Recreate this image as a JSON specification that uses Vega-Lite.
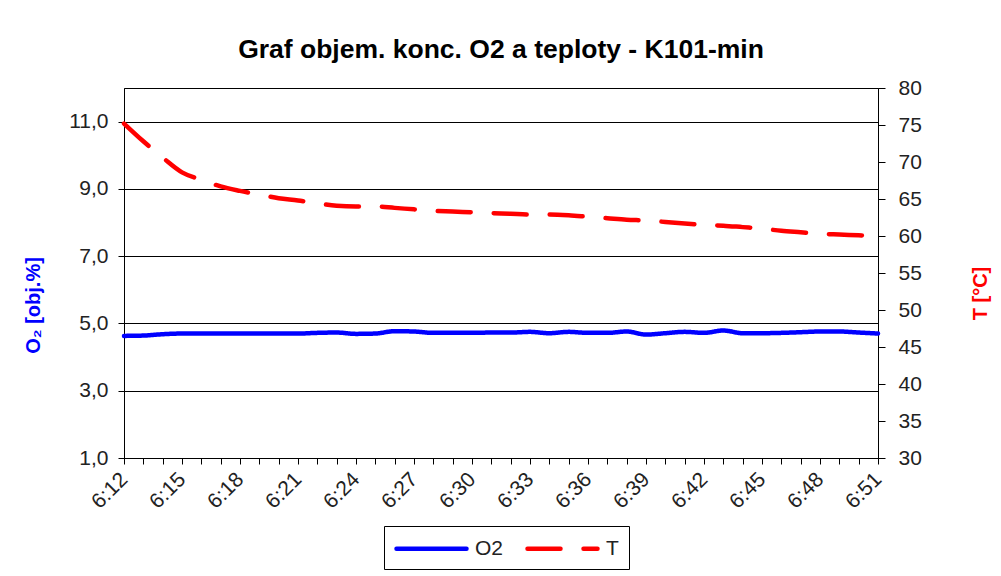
{
  "$schema": "https://vega.github.io/schema/vega-lite/v6.json",
  "width": 754,
  "height": 370,
  "autosize": {"type": "none"},
  "padding": {"left": 124, "top": 88, "right": 123, "bottom": 118},
  "background": "white",
  "title": {
    "text": "Graf objem. konc. O2 a teploty - K101-min",
    "font": "Liberation Sans",
    "fontSize": 26.5,
    "fontWeight": "bold",
    "color": "#000000",
    "anchor": "middle",
    "frame": "group",
    "baseline": "alphabetic",
    "offset": 18,
    "dy": 25
  },
  "config": {
    "font": "Liberation Sans",
    "view": {"stroke": "#000000", "strokeWidth": 1},
    "axis": {
      "labelFont": "Liberation Sans",
      "labelFontSize": 21,
      "labelColor": "#222222",
      "domainColor": "#000000",
      "tickColor": "#000000",
      "gridColor": "#000000",
      "gridOpacity": 1,
      "titleFont": "Liberation Sans",
      "titleFontSize": 20,
      "titleFontWeight": "bold"
    },
    "legend": {
      "labelFont": "Liberation Sans",
      "labelFontSize": 21,
      "labelColor": "#222222"
    }
  },
  "data": {
    "values": [
      {"cas": "6:12", "O2": 4.63, "T": 75.2},
      {"cas": "6:13", "O2": 4.64, "T": 72.8},
      {"cas": "6:14", "O2": 4.68, "T": 70.6},
      {"cas": "6:15", "O2": 4.70, "T": 68.6},
      {"cas": "6:16", "O2": 4.70, "T": 67.6},
      {"cas": "6:17", "O2": 4.70, "T": 66.7},
      {"cas": "6:18", "O2": 4.70, "T": 66.1},
      {"cas": "6:19", "O2": 4.70, "T": 65.6},
      {"cas": "6:20", "O2": 4.70, "T": 65.1},
      {"cas": "6:21", "O2": 4.70, "T": 64.8},
      {"cas": "6:22", "O2": 4.72, "T": 64.4},
      {"cas": "6:23", "O2": 4.73, "T": 64.1},
      {"cas": "6:24", "O2": 4.69, "T": 64.0},
      {"cas": "6:25", "O2": 4.70, "T": 64.0},
      {"cas": "6:26", "O2": 4.77, "T": 63.8},
      {"cas": "6:27", "O2": 4.76, "T": 63.6},
      {"cas": "6:28", "O2": 4.72, "T": 63.4},
      {"cas": "6:29", "O2": 4.72, "T": 63.3},
      {"cas": "6:30", "O2": 4.72, "T": 63.2},
      {"cas": "6:31", "O2": 4.73, "T": 63.1},
      {"cas": "6:32", "O2": 4.73, "T": 63.0},
      {"cas": "6:33", "O2": 4.75, "T": 62.9},
      {"cas": "6:34", "O2": 4.71, "T": 62.9},
      {"cas": "6:35", "O2": 4.75, "T": 62.8},
      {"cas": "6:36", "O2": 4.72, "T": 62.6},
      {"cas": "6:37", "O2": 4.72, "T": 62.4},
      {"cas": "6:38", "O2": 4.76, "T": 62.2},
      {"cas": "6:39", "O2": 4.67, "T": 62.1},
      {"cas": "6:40", "O2": 4.71, "T": 61.9},
      {"cas": "6:41", "O2": 4.75, "T": 61.7},
      {"cas": "6:42", "O2": 4.72, "T": 61.5},
      {"cas": "6:43", "O2": 4.79, "T": 61.4},
      {"cas": "6:44", "O2": 4.71, "T": 61.2},
      {"cas": "6:45", "O2": 4.71, "T": 61.0},
      {"cas": "6:46", "O2": 4.72, "T": 60.7},
      {"cas": "6:47", "O2": 4.74, "T": 60.5},
      {"cas": "6:48", "O2": 4.76, "T": 60.3},
      {"cas": "6:49", "O2": 4.76, "T": 60.2},
      {"cas": "6:50", "O2": 4.73, "T": 60.1},
      {"cas": "6:51", "O2": 4.70, "T": 60.0}
    ]
  },
  "encoding": {
    "x": {
      "field": "cas",
      "type": "ordinal",
      "sort": null,
      "scale": {"type": "point", "padding": 0},
      "axis": {
        "title": null,
        "tickSize": 6,
        "labelAngle": -45,
        "labelAlign": "right",
        "labelBaseline": "middle",
        "labelPadding": 12,
        "labelExpr": "(toNumber(substring(datum.value, 2)) - 12) % 3 == 0 ? datum.value : ''"
      }
    }
  },
  "layer": [
    {
      "mark": {"type": "line", "strokeWidth": 4.5, "strokeCap": "round", "interpolate": "monotone"},
      "encoding": {
        "y": {
          "field": "O2",
          "type": "quantitative",
          "scale": {"domain": [1, 12], "nice": false, "zero": false},
          "axis": {
            "orient": "left",
            "values": [1, 3, 5, 7, 9, 11],
            "grid": true,
            "tickSize": 6,
            "labelPadding": 10,
            "labelExpr": "replace(format(datum.value, '.1f'), '.', ',')",
            "title": "O₂ [obj.%]",
            "titleColor": "#0000FF",
            "titleAngle": 270,
            "titleAlign": "center",
            "titleBaseline": "middle",
            "titleX": -91,
            "titleY": 217
          }
        },
        "color": {
          "datum": "O2",
          "scale": {"domain": ["O2", "T"], "range": ["#0000FF", "#FF0000"]},
          "legend": {
            "title": null,
            "orient": "none",
            "legendX": 260,
            "legendY": 438,
            "direction": "horizontal",
            "symbolType": "M-1,0H6",
            "symbolSize": 400,
            "symbolStrokeWidth": 4.5,
            "labelOffset": 56,
            "columnPadding": 14,
            "padding": 10,
            "strokeColor": "#000000",
            "fillColor": "#FFFFFF",
            "encode": {"symbols": {"update": {"strokeCap": {"value": "round"}}}}
          }
        },
        "strokeDash": {
          "datum": "O2",
          "scale": {"domain": ["O2", "T"], "range": [[1, 0], [33, 23]]},
          "legend": null
        }
      }
    },
    {
      "mark": {"type": "line", "strokeWidth": 4.5, "strokeCap": "round", "interpolate": "monotone"},
      "encoding": {
        "y": {
          "field": "T",
          "type": "quantitative",
          "scale": {"domain": [30, 80], "nice": false, "zero": false},
          "axis": {
            "orient": "right",
            "values": [30, 35, 40, 45, 50, 55, 60, 65, 70, 75, 80],
            "grid": false,
            "tickSize": 7,
            "labelPadding": 13,
            "title": "T [°C]",
            "titleColor": "#FF0000",
            "titleAngle": 270,
            "titleAlign": "center",
            "titleBaseline": "middle",
            "titleX": 102,
            "titleY": 205
          }
        },
        "color": {"datum": "T"},
        "strokeDash": {"datum": "T", "legend": null}
      }
    }
  ],
  "resolve": {"scale": {"y": "independent"}, "axis": {"y": "independent"}}
}
